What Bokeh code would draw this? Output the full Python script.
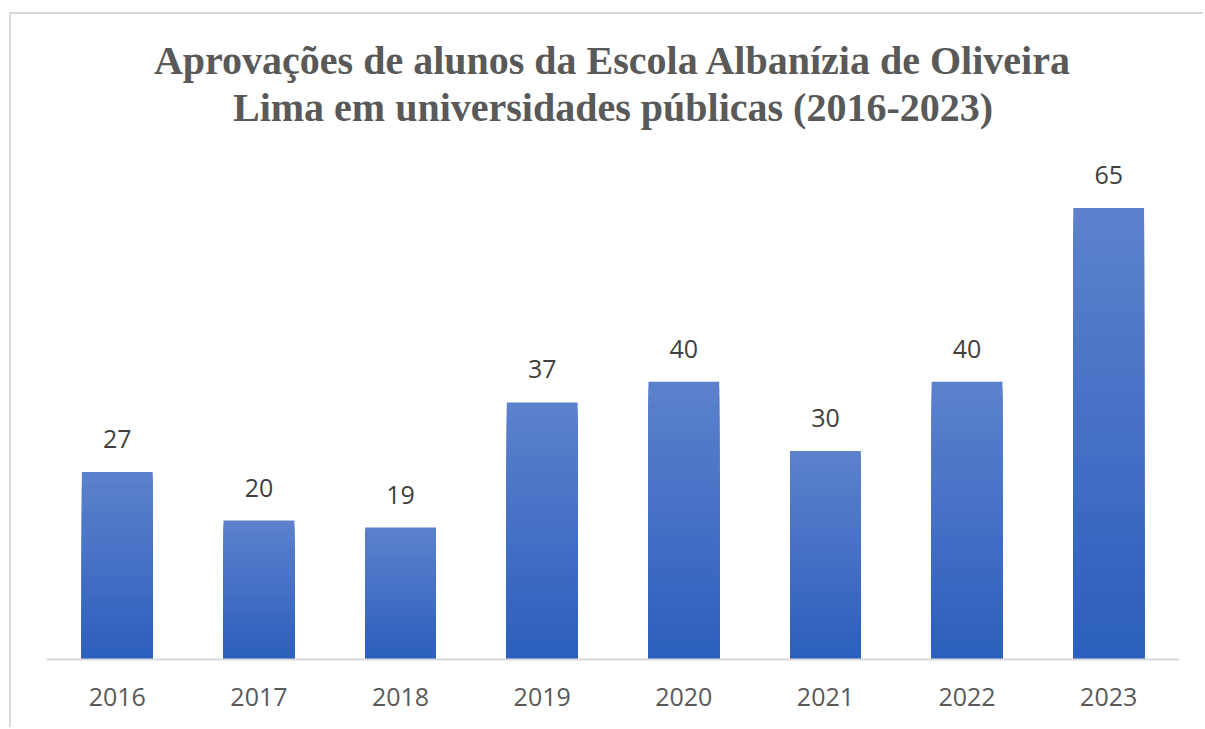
from bokeh.plotting import figure
from bokeh.models import FactorRange, Range1d, ColumnDataSource, Title
from bokeh.core.properties import value
from bokeh.embed import file_html
from bokeh.resources import INLINE

years = ["2016", "2017", "2018", "2019", "2020", "2021", "2022", "2023"]
approvals = [27, 20, 19, 37, 40, 30, 40, 65]
title_lines = ["Aprovações de alunos da Escola Albanízia de Oliveira",
               "Lima em universidades públicas (2016-2023)"]

p = figure(width=1194, height=715, x_range=FactorRange(factors=years),
           y_range=Range1d(0, 76.3), output_backend="svg", toolbar_location=None,
           min_border_left=35, min_border_right=26, min_border_bottom=70, min_border_top=115,
           margin=(12, 0, 0, 9), title=None,
           styles={"border-left": "2px solid #d9d9d9", "border-top": "2px solid #d9d9d9"})

# title lines: the line added first sits closest to the plot frame
for line in reversed(title_lines):
    p.add_layout(Title(text=line, align="center", text_font="Liberation Serif",
                       text_font_style="bold", text_font_size="40px", text_color="#595959",
                       standoff=0), "above")

# vertical gradient per bar (light top -> dark bottom)
top_c = (92, 129, 204)
bot_c = (45, 95, 190)
n = 40
for k in range(n):
    f = 1 - k / n
    t = k / (n - 1)
    c = tuple(int(round(top_c[i] + (bot_c[i] - top_c[i]) * t)) for i in range(3))
    src = ColumnDataSource(dict(x=years, top=[v * f for v in approvals]))
    p.vbar(x="x", top="top", width=0.5, source=src, fill_color="#%02x%02x%02x" % c,
           line_color=None)

lab = ColumnDataSource(dict(x=years, y=approvals, t=[str(v) for v in approvals]))
p.text(x="x", y="y", text="t", source=lab, text_align="center", text_baseline="bottom",
       y_offset=-24, text_font=value("Open Sans"), text_font_size="25px", text_color="#404040")

p.yaxis.visible = False
p.xgrid.visible = False
p.ygrid.visible = False
p.outline_line_color = None
p.xaxis.axis_line_color = "#d9d9d9"
p.xaxis.axis_line_width = 2
p.xaxis.major_tick_line_color = None
p.xaxis.minor_tick_line_color = None
p.xaxis.major_tick_out = 0
p.xaxis.major_label_standoff = 28
p.xaxis.major_label_text_font = "Open Sans"
p.xaxis.major_label_text_font_size = "25px"
p.xaxis.major_label_text_color = "#595959"

open("out.html", "w").write(file_html(p, INLINE))
